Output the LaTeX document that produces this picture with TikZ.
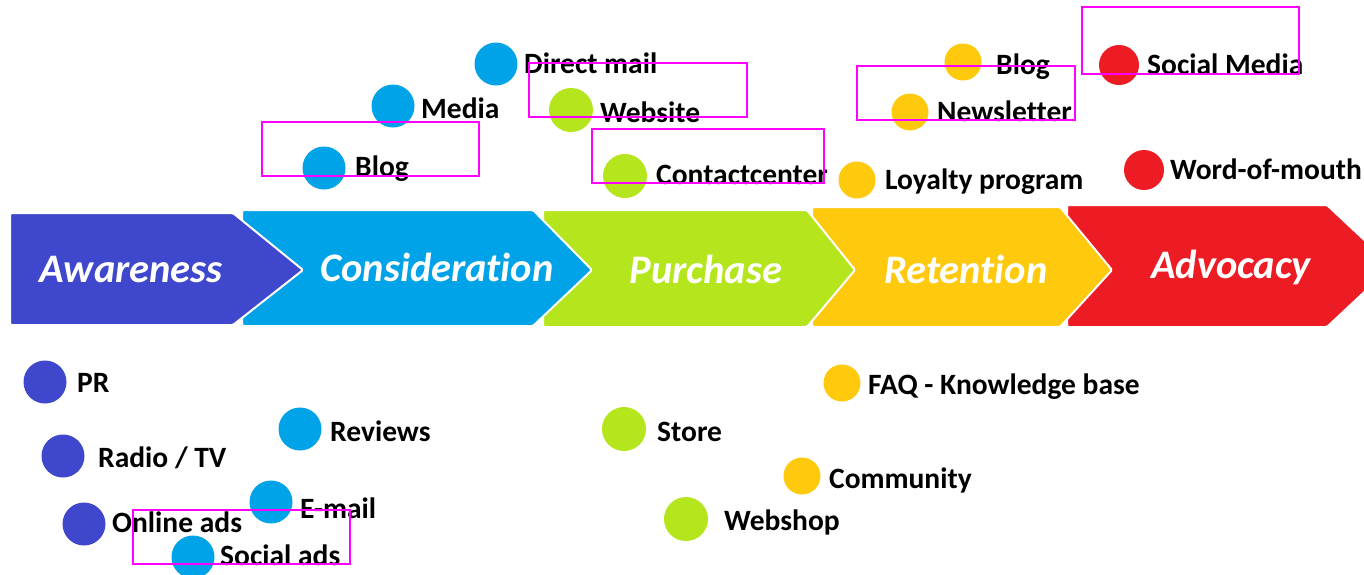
\documentclass[tikz,border=0pt]{standalone}
\usepackage{fontspec}
\setmainfont[Ligatures={NoCommon,NoContextual,NoRare,NoDiscretionary}]{Carlito}
\definecolor{cIndigo}{RGB}{63,72,204}
\definecolor{cBlue}{RGB}{0,162,232}
\definecolor{cLime}{RGB}{181,230,29}
\definecolor{cGold}{RGB}{255,201,14}
\definecolor{cRed}{RGB}{237,28,36}
\definecolor{cMag}{RGB}{255,0,255}
\newcommand\mylabfont{\bfseries\fontsize{29.5}{31}\selectfont}
\newcommand\mystagefont{\bfseries\itshape\fontsize{40.5}{44}\selectfont}
\tikzset{
  chev/.style={draw=white, line width=2pt, rounded corners=1.5pt},
  dotbase/.style={circle, inner sep=0pt, draw=none},
  dotI/.style={dotbase, fill=cIndigo, minimum size=43pt},
  dotB/.style={dotbase, fill=cBlue, minimum size=43pt},
  dotL/.style={dotbase, fill=cLime, minimum size=44pt},
  dotG/.style={dotbase, fill=cGold, minimum size=37pt},
  dotR/.style={dotbase, fill=cRed, minimum size=40pt},
  lab/.style={anchor=base west, inner sep=0pt, font=\mylabfont, text=black, yshift=-2pt},
  stage/.style={anchor=base, inner sep=0pt, font=\mystagefont, text=white},
  hlbox/.style={draw=cMag, line width=2pt}
}
\begin{document}
\begin{tikzpicture}[x=1pt,y=-1pt]
\useasboundingbox (0,0) rectangle (1364,574);
\fill[white] (0,0) rectangle (1364,574);
% chevrons, right to left so each overlaps the next
\filldraw[chev, fill=cRed]    (1067,205) -- (1327,205) -- (1392,266) -- (1327,327) -- (1067,327) -- cycle;
\filldraw[chev, fill=cGold]   (812,207) -- (1060,207) -- (1112,270) -- (1060,327) -- (812,327) -- cycle;
\filldraw[chev, fill=cLime]   (543,210) -- (807,210) -- (855,270) -- (807,327) -- (543,327) -- cycle;
\filldraw[chev, fill=cBlue]   (242,210) -- (533,210) -- (592,270) -- (533,326) -- (242,326) -- cycle;
\filldraw[chev, fill=cIndigo] (10,213) -- (233,213) -- (303,270) -- (233,325) -- (10,325) -- cycle;
\node[stage] (sAw) at (131,282) {Awareness};
\node[stage] (sCo) at (437,281) {Considerat\kern0pt ion};
\node[stage] (sPu) at (706,283) {Purchase};
\node[stage] (sRe) at (966,283) {Retent\kern0pt ion};
\node[stage] (sAd) at (1231,278) {Advocacy};
% Awareness
\node[dotI] (dPR) at (45,382) {};
\node[lab] (tPR) at (77,390) {PR};
\node[dotI] (dRT) at (63,456) {};
\node[lab] (tRT) at (98,465) {Radio / TV};
\node[dotI] (dOA) at (84,524) {};
\node[lab] (tOA) at (112,530) {Online ads};
% Consideration
\node[dotB] (dRv) at (300,429) {};
\node[lab] (tRv) at (330,439) {Reviews};
\node[dotB] (dEM) at (271,502) {};
\node[lab] (tEM) at (300,516) {E-mail};
\node[dotB] (dSA) at (193,557) {};
\node[lab] (tSA) at (220,563) {Social ads};
\node[dotB] (dBl) at (324,168) {};
\node[lab] (tBl) at (355,174) {Blog};
\node[dotB] (dMe) at (393,106) {};
\node[lab] (tMe) at (421,116) {Media};
\node[dotB] (dDM) at (496,64) {};
\node[lab] (tDM) at (524,71) {Direct mail};
% Purchase
\node[dotL] (dWe) at (571,110) {};
\node[lab] (tWe) at (600,120) {Website};
\node[dotL] (dCC) at (625,176) {};
\node[lab] (tCC) at (656,182) {Contactcenter};
\node[dotL] (dSt) at (624,429) {};
\node[lab] (tSt) at (657,439) {Store};
\node[dotL] (dWs) at (686,519) {};
\node[lab] (tWs) at (724,528) {Webshop};
% Retention
\node[dotG] (dLP) at (857,180) {};
\node[lab] (tLP) at (885,187) {Loyalty program};
\node[dotG] (dNL) at (910,112) {};
\node[lab] (tNL) at (937,119) {Newsletter};
\node[dotG] (dB2) at (963,62) {};
\node[lab] (tB2) at (996,72) {Blog};
\node[dotG] (dFQ) at (842,383) {};
\node[lab] (tFQ) at (868,392) {FAQ - Knowledge base};
\node[dotG] (dCm) at (802,476) {};
\node[lab] (tCm) at (829,486) {Community};
% Advocacy
\node[dotR] (dSM) at (1119,65) {};
\node[lab] (tSM) at (1147,72) {Social Media};
\node[dotR] (dWM) at (1144,170) {};
\node[lab] (tWM) at (1170,177) {Word-of-mouth};
% highlight boxes
\draw[hlbox] (262,122) rectangle (479,176);
\draw[hlbox] (529,63) rectangle (747,117);
\draw[hlbox] (592,129) rectangle (824,183);
\draw[hlbox] (857,66) rectangle (1075,120);
\draw[hlbox] (1082,7) rectangle (1299,74);
\draw[hlbox] (133,510) rectangle (350,564);
\end{tikzpicture}
\end{document}
